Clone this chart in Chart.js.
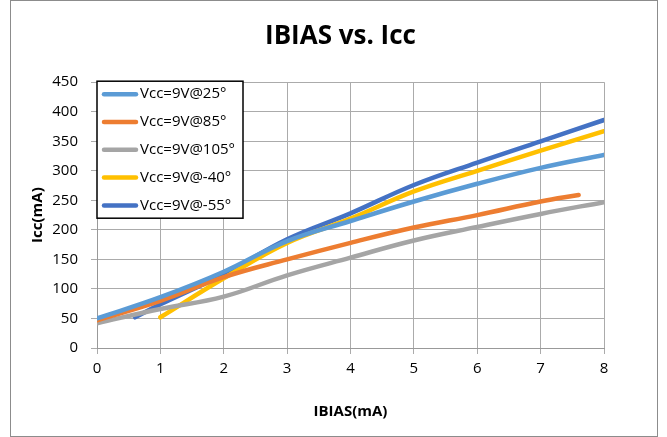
<!DOCTYPE html>
<html>
<head>
<meta charset="utf-8">
<script src="https://cdn.jsdelivr.net/npm/chart.js@4/dist/chart.umd.min.js"></script>
<style>
  html, body { margin: 0; padding: 0; background: #fff; }
  canvas { display: block; }
</style>
</head>
<body>
<canvas id="c" width="667" height="437"></canvas>
<script>
// ---- data ----
const seriesLabels = ['Vcc=9V@25°', 'Vcc=9V@85°', 'Vcc=9V@105°', 'Vcc=9V@-40°', 'Vcc=9V@-55°'];
const seriesColors = ['#5B9BD5', '#ED7D31', '#A5A5A5', '#FFC000', '#4472C4'];

const x25  = [0, 1, 2, 3, 4, 5, 6, 7, 8];
const y25  = [50, 86, 129, 181, 215, 248, 278, 305, 327];

const x85  = [0, 1, 2, 3, 4, 5, 6, 7, 7.6];
const y85  = [47, 80, 120, 150, 178, 204, 225, 248, 259];

const x105 = [0, 1, 2, 3, 4, 5, 6, 7, 8];
const y105 = [42, 66, 87, 123, 153, 182, 205, 227, 247];

const xm40 = [1, 2, 3, 4, 5, 6, 7, 8];
const ym40 = [52, 118, 178, 219, 265, 300, 334, 367];

const xm55 = [0.6, 1, 2, 3, 4, 5, 6, 7, 8];
const ym55 = [52, 74, 125, 184, 228, 276, 314, 350, 386];

const xTicks = [0, 1, 2, 3, 4, 5, 6, 7, 8];
const yTicks = [0, 50, 100, 150, 200, 250, 300, 350, 400, 450];

const FONT = "'Open Sans', 'Liberation Sans', sans-serif";

function pts(xs, ys) { return xs.map((x, i) => ({ x: x, y: ys[i] })); }
const seriesData = [pts(x25, y25), pts(x85, y85), pts(x105, y105), pts(xm40, ym40), pts(xm55, ym55)];

const datasets = seriesLabels.map((lab, i) => ({
  label: lab,
  data: seriesData[i],
  xAxisID: 'x',
  yAxisID: 'y',
  borderColor: seriesColors[i],
  backgroundColor: seriesColors[i],
  borderWidth: 4.5,
  pointRadius: 0,
  showLine: true,
  tension: 0.4,
  borderCapStyle: 'round',
  fill: false
}));

const framePlugin = {
  id: 'frame',
  beforeDraw(chart) {
    const ctx = chart.ctx;
    ctx.save();
    ctx.fillStyle = '#fff';
    ctx.fillRect(0, 0, chart.width, chart.height);
    ctx.strokeStyle = '#8c8c8c';
    ctx.lineWidth = 1;
    ctx.strokeRect(10.5, 0.5, 647, 436);
    ctx.restore();
  }
};

const boxLegend = {
  id: 'boxLegend',
  afterDatasetsDraw(chart) {
    const ctx = chart.ctx;
    const ca = chart.chartArea;
    const left = ca.left, top = ca.top - 1;
    const w = 146, h = 137;
    ctx.save();
    ctx.fillStyle = '#fff';
    ctx.fillRect(left, top, w, h);
    ctx.strokeStyle = '#000';
    ctx.lineWidth = 1.5;
    ctx.strokeRect(left, top, w, h);
    ctx.font = '15px ' + FONT;
    ctx.textBaseline = 'middle';
    ctx.textAlign = 'left';
    chart.data.datasets.forEach((ds, i) => {
      const y = top + 13 + i * 27.8;
      ctx.strokeStyle = ds.borderColor;
      ctx.lineWidth = 4.5;
      ctx.lineCap = 'round';
      ctx.beginPath();
      ctx.moveTo(left + 7, y);
      ctx.lineTo(left + 39, y);
      ctx.stroke();
      ctx.fillStyle = '#000';
      ctx.fillText(ds.label, left + 43, y);
    });
    ctx.restore();
  }
};

new Chart(document.getElementById('c'), {
  type: 'scatter',
  data: { datasets: datasets },
  plugins: [framePlugin, boxLegend],
  options: {
    responsive: false,
    animation: false,
    layout: { padding: { left: 14, right: 0, top: 0, bottom: 0 } },
    plugins: {
      legend: { display: false },
      tooltip: { enabled: false },
      title: {
        display: true,
        text: 'IBIAS vs. Icc',
        color: '#000',
        font: { family: FONT, size: 26, weight: 'bold' },
        padding: { top: 21, bottom: 30 }
      }
    },
    scales: {
      x: {
        type: 'linear',
        position: 'bottom',
        min: 0, max: 8,
        afterBuildTicks(scale) { scale.ticks = xTicks.map(v => ({ value: v })); },
        afterFit(scale) { scale.height = 89; },
        ticks: { color: '#000', font: { family: FONT, size: 15 }, padding: 6 },
        grid: { color: '#ababab', lineWidth: 1, tickLength: 6 },
        border: { color: '#999', width: 1 },
        title: {
          display: true, text: 'IBIAS(mA)', color: '#000',
          font: { family: FONT, size: 15, weight: 'bold' },
          padding: { top: 0, bottom: 16 }
        }
      },
      y: {
        type: 'linear',
        position: 'left',
        min: 0, max: 450,
        afterBuildTicks(scale) { scale.ticks = yTicks.map(v => ({ value: v })); },
        afterFit(scale) { scale.width = 83; },
        ticks: { color: '#000', font: { family: FONT, size: 15 }, padding: 13 },
        grid: { color: '#ababab', lineWidth: 1, tickLength: 6 },
        border: { color: '#999', width: 1 },
        title: {
          display: true, text: 'Icc(mA)', color: '#000',
          font: { family: FONT, size: 15, weight: 'bold' },
          padding: { top: 15, bottom: 0 }
        }
      },
      yRight: {
        type: 'linear',
        position: 'right',
        min: 0, max: 1,
        afterFit(scale) { scale.width = 63; },
        ticks: { display: false },
        grid: { display: false, drawOnChartArea: false },
        border: { display: false },
        title: { display: false }
      }
    }
  }
});
</script>
</body>
</html>
